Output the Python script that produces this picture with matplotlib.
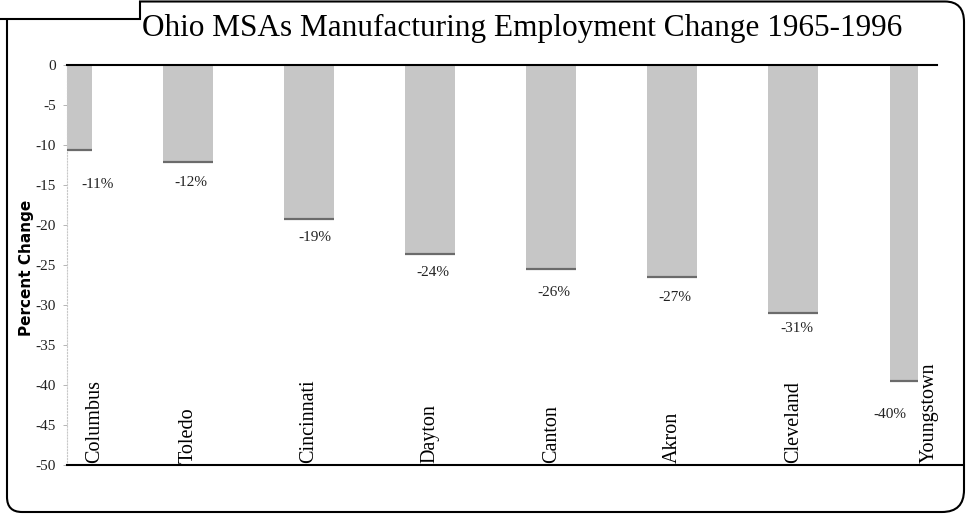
import matplotlib
matplotlib.use("Agg")
import matplotlib.pyplot as plt
from matplotlib.path import Path
from matplotlib.patches import PathPatch

# Manufacturing employment change by Ohio MSA, 1965-1996 (percent)
cities = ["Columbus", "Toledo", "Cincinnati", "Dayton",
          "Canton", "Akron", "Cleveland", "Youngstown"]
pct_change = [-10.7, -12.2, -19.3, -23.7, -25.6, -26.6, -31.1, -39.6]
y_ticks = [0, -5, -10, -15, -20, -25, -30, -35, -40, -45, -50]

title = "Ohio MSAs Manufacturing Employment Change 1965-1996"
ylabel = "Percent Change"

# label placement tweaks (x in category units, y in points below the bar end)
value_dx = [0.25, 0.02, 0.05, 0.02, 0.02, 0.02, 0.03, -0.2]
value_dy = [25, 14.5, 13.5, 13.5, 16.5, 14.5, 11, 24]
name_dx = [0.23, 0, 0, 0, 0, 0, 0, 0.12]

W, H = 969, 516
plt.rcParams["axes.unicode_minus"] = False
serif = ["Liberation Serif", "DejaVu Serif"]

fig = plt.figure(figsize=(W / 100, H / 100), dpi=100)
fig.patch.set_facecolor("white")

ax = fig.add_axes([67 / W, (H - 464.5) / H, 851 / W, 400 / H])
x = list(range(len(cities)))
bar_w = 0.41

ax.bar(x, pct_change, width=bar_w, color="#c6c6c6", edgecolor="none", zorder=2)
# darker edge along the end of each bar
ax.hlines(pct_change, [i - bar_w / 2 for i in x], [i + bar_w / 2 for i in x],
          colors="#6b6b6b", lw=1.6, zorder=3)

ax.set_xlim(0, 7.03)
ax.set_ylim(-50, 0)
ax.set_yticks(y_ticks)
ax.set_yticklabels([str(t) for t in y_ticks], family=serif, fontsize=11, color="#222222")
ax.tick_params(axis="y", length=3, width=0.6, color="#aaaaaa", pad=5)
ax.set_xticks([])

for side in ["top", "right", "bottom"]:
    ax.spines[side].set_visible(False)
ax.spines["left"].set_color("#c8c8c8")
ax.spines["left"].set_linestyle(":")
ax.spines["left"].set_linewidth(0.8)

# zero line and floor line run past the last bar
yax = ax.get_yaxis_transform()
ax.plot([0, 1.022], [0, 0], transform=yax, color="black", lw=1.5,
        clip_on=False, zorder=4)
ax.plot([0, 1.053], [-50, -50], transform=yax, color="black", lw=1.5,
        clip_on=False, zorder=4)

for i, v in enumerate(pct_change):
    ax.annotate(f"{v:.0f}%", xy=(i + value_dx[i], v), xytext=(0, -value_dy[i]),
                textcoords="offset points", ha="center", va="center",
                family=serif, fontsize=11, color="#222222", annotation_clip=False)
    ax.text(i + name_dx[i], -49.8, cities[i], rotation=90, ha="center",
            va="bottom", family=serif, fontsize=14.5, color="black",
            clip_on=False, zorder=5)

fig.text(26 / W, 1 - 268 / H, ylabel, rotation=90, ha="center", va="center",
         fontsize=11, fontweight="bold", family="DejaVu Sans")
fig.text(522 / W, 1 - 28 / H, title, ha="center", va="center",
         family=serif, fontsize=22.5)

# outer frame with the small tab at the upper left
pts = [(0, 19), (140, 19), (140, 1.5), (945, 1.5), (964, 1.5), (964, 22),
       (964, 490), (964, 512), (942, 512), (22, 512), (7, 512), (7, 497),
       (7, 19)]
codes = [Path.MOVETO, Path.LINETO, Path.LINETO, Path.LINETO, Path.CURVE3,
         Path.CURVE3, Path.LINETO, Path.CURVE3, Path.CURVE3, Path.LINETO,
         Path.CURVE3, Path.CURVE3, Path.LINETO]
frame = Path([(px / W, 1 - py / H) for px, py in pts], codes)
fig.patches.append(PathPatch(frame, transform=fig.transFigure, fill=False,
                             edgecolor="black", lw=1.5))

fig.savefig("out.png", dpi=100)
